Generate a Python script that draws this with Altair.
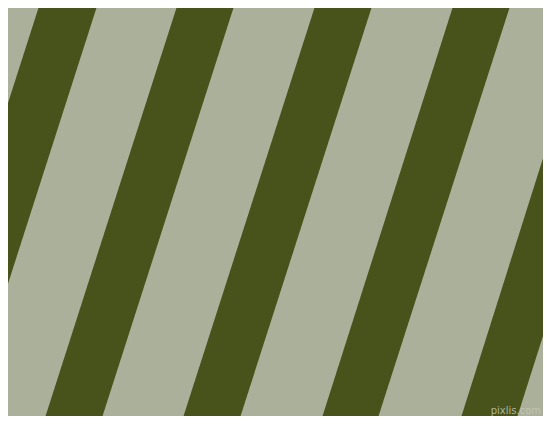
import altair as alt
import pandas as pd

# Stripe edges (x positions at top edge y=0 and bottom edge y=424)
stripe_id = [1, 2, 3, 4, 5]
top_left = [41, 179, 317, 455, 593]
top_right = [99, 236, 374, 512, 650]
bottom_left = [-95, 43, 181, 320, 459]
bottom_right = [-37, 100, 238, 376, 515]
edge_y = [0, 424]

rows = []
for i, s in enumerate(stripe_id):
    rows.append({"stripe": s, "y": edge_y[0], "xl": top_left[i], "xr": top_right[i]})
    rows.append({"stripe": s, "y": edge_y[1], "xl": bottom_left[i], "xr": bottom_right[i]})
df = pd.DataFrame(rows)

label_df = pd.DataFrame({"x": [541], "y": [411], "t": ["pixlis.com"]})

DARK = "#47531a"
LIGHT = "#abb09b"

xs = alt.Scale(domain=[8, 543], nice=False, zero=False)
ys = alt.Scale(domain=[8, 416], nice=False, zero=False, reverse=True)

stripes = alt.Chart(df).mark_area(orient="horizontal", clip=True, color=DARK, opacity=1, interpolate="linear").encode(
    y=alt.Y("y:Q", scale=ys, axis=None),
    x=alt.X("xl:Q", scale=xs, axis=None, stack=None),
    x2="xr:Q",
    detail="stripe:N",
)

label = alt.Chart(label_df).mark_text(
    fontSize=10, font="DejaVu Sans", color="#c9cbbb", opacity=0.8, align="right"
).encode(
    x=alt.X("x:Q", scale=xs, axis=None),
    y=alt.Y("y:Q", scale=ys, axis=None),
    text="t:N",
)

chart = (
    alt.layer(stripes, label)
    .properties(width=535, height=408, background=LIGHT, padding=0, autosize="none")
    .configure_view(stroke=None, fill=LIGHT)
)

chart.save("out.html", embed_options={"renderer": "svg", "actions": False})
